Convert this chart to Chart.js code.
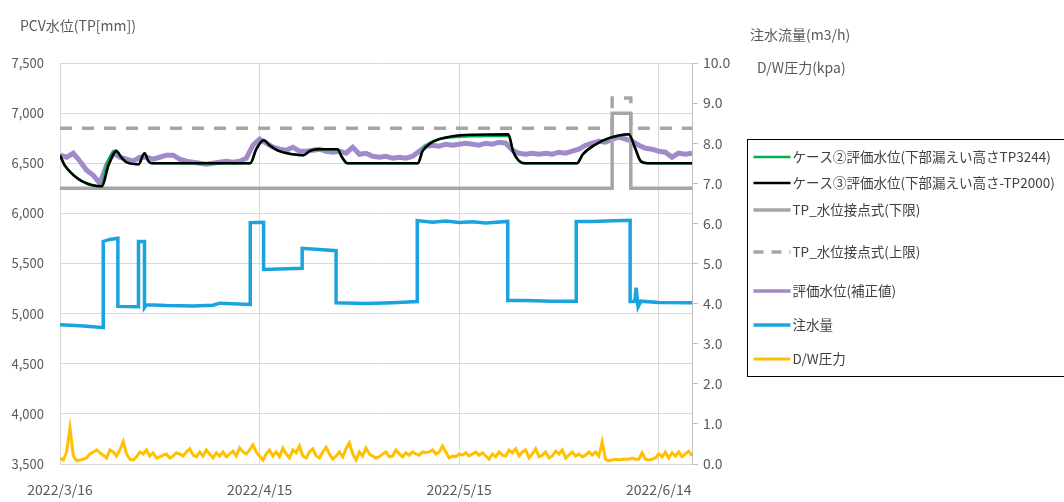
<!DOCTYPE html>
<html>
<head>
<meta charset="utf-8">
<script src="https://cdn.jsdelivr.net/npm/chart.js@4/dist/chart.umd.min.js"></script>
<style>
  html, body { margin: 0; padding: 0; background: #fff; }
  #wrap { width: 1064px; height: 502px; position: relative; }
</style>
</head>
<body>
<div id="wrap"><canvas id="chart"></canvas></div>
<script>
// x axis: days since 2022/3/16
const tickDays = [0, 30, 60, 90];
const tickLabels = ['2022/3/16', '2022/4/15', '2022/5/15', '2022/6/14'];

const leftTitle = 'PCV水位(TP[mm])';
const rightTitles = ['注水流量(m3/h)', 'D/W圧力(kpa)'];

const seriesNames = [
    'ケース②評価水位(下部漏えい高さTP3244)',
    'ケース③評価水位(下部漏えい高さ-TP2000)',
    'TP_水位接点式(下限)',
    'TP_水位接点式(上限)',
    '評価水位(補正値)',
    '注水量',
    'D/W圧力'
];

// case 2 / case 3 evaluated levels (mm)
const case2Days = [0, 0.8, 6.2, 7.1, 8.4, 9.2, 10, 11.8, 12.7, 13.3, 13.8, 28.6, 29.5, 30.6, 31.5, 33, 35, 36.6, 37.5, 38.7, 41.7, 42.4, 43.2, 53.8, 54.5, 55.5, 57, 59, 62, 67.4, 68.1, 68.9, 69.8, 77.7, 78.6, 80.3, 82.5, 85.5, 86.4, 87.3, 88.3, 95];
const case2Levels = [6580, 6470, 6270, 6500, 6630, 6560, 6510, 6490, 6600, 6520, 6500, 6500, 6640, 6730, 6680, 6620, 6590, 6580, 6620, 6640, 6640, 6560, 6500, 6500, 6630, 6700, 6740, 6760, 6770, 6775, 6620, 6530, 6500, 6500, 6590, 6680, 6750, 6785, 6660, 6520, 6500, 6500];
const case3Days = [0, 0.8, 6.3, 7.3, 8.5, 9.2, 10, 11.8, 12.7, 13.3, 13.8, 28.6, 29.5, 30.6, 31.5, 33, 35, 36.6, 37.5, 38.7, 41.7, 42.4, 43.2, 53.8, 54.5, 55.5, 57, 59, 62, 67.4, 68.1, 68.9, 69.8, 77.7, 78.6, 80.3, 82.5, 85.5, 86.4, 87.3, 88.3, 95];
const case3Levels = [6580, 6470, 6270, 6480, 6620, 6560, 6510, 6490, 6600, 6520, 6500, 6500, 6640, 6730, 6680, 6620, 6590, 6580, 6620, 6640, 6640, 6560, 6500, 6500, 6620, 6690, 6740, 6770, 6785, 6790, 6620, 6530, 6500, 6500, 6590, 6680, 6750, 6790, 6660, 6520, 6500, 6500];

// TP contact-type level limits (mm)
const lowerDays = [0, 83.0, 83.0, 85.8, 85.8, 95];
const lowerLevels = [6250, 6250, 7000, 7000, 6250, 6250];
const upperDays = [0, 83.0, 83.0, 85.8, 85.8, 95];
const upperLevels = [6850, 6850, 7150, 7150, 6850, 6850];

// corrected evaluated level, one value per day (mm)
const correctedLevels = [
    6580, 6560, 6600, 6520, 6430, 6380, 6300, 6480, 6600, 6560,
    6540, 6520, 6560, 6560, 6540, 6560, 6580, 6580, 6540, 6520,
    6510, 6500, 6490, 6500, 6510, 6520, 6510, 6520, 6550, 6680,
    6740, 6700, 6660, 6640, 6630, 6660, 6620, 6620, 6630, 6640,
    6620, 6610, 6620, 6600, 6660, 6590, 6600, 6570, 6560, 6570,
    6550, 6560, 6550, 6570, 6620, 6670, 6680, 6670, 6690, 6680,
    6690, 6700, 6690, 6680, 6700, 6690, 6710, 6700, 6630, 6600,
    6590, 6600, 6590, 6600, 6590, 6610, 6600, 6620, 6640, 6680,
    6700, 6720, 6710, 6740, 6760, 6740, 6720, 6680, 6650, 6640,
    6620, 6610, 6560, 6600, 6590, 6600
];

// water injection flow (m3/h)
const flowDays = [0, 3, 5, 6.5, 6.5, 7.5, 8.7, 8.7, 11.8, 11.8, 12.7, 12.7, 13, 16, 20, 23, 24, 28.6, 28.6, 30.6, 30.6, 36.4, 36.4, 41.5, 41.5, 46, 50, 53.7, 53.7, 56, 58, 60, 62, 64, 67.3, 67.3, 70, 74, 77.6, 77.6, 80, 82, 85.7, 85.7, 86.4, 86.6, 86.9, 87.3, 90, 95];
const flowValues = [3.47, 3.45, 3.42, 3.40, 5.55, 5.60, 5.63, 3.93, 3.92, 5.55, 5.55, 3.90, 3.97, 3.95, 3.94, 3.96, 4.01, 3.98, 6.02, 6.03, 4.85, 4.88, 5.38, 5.32, 4.02, 4.00, 4.02, 4.05, 6.07, 6.03, 6.06, 6.02, 6.04, 6.01, 6.05, 4.08, 4.08, 4.06, 4.06, 6.05, 6.05, 6.06, 6.08, 4.05, 4.05, 4.40, 3.92, 4.06, 4.03, 4.02];

// D/W pressure, two values per day (kPa)
const dwPressure = [
    0.15, 0.10, 0.30, 0.90, 0.20, 0.08, 0.10, 0.12, 0.15, 0.25,
    0.30, 0.35, 0.28, 0.22, 0.15, 0.35, 0.30, 0.20, 0.35, 0.56,
    0.25, 0.12, 0.10, 0.18, 0.30, 0.25, 0.35, 0.20, 0.28, 0.15,
    0.18, 0.22, 0.25, 0.15, 0.20, 0.28, 0.25, 0.20, 0.30, 0.38,
    0.22, 0.18, 0.30, 0.20, 0.35, 0.25, 0.15, 0.28, 0.20, 0.30,
    0.18, 0.25, 0.32, 0.20, 0.40, 0.30, 0.25, 0.35, 0.48, 0.30,
    0.20, 0.10, 0.25, 0.35, 0.20, 0.30, 0.18, 0.40, 0.25, 0.15,
    0.35, 0.28, 0.45, 0.20, 0.15, 0.30, 0.38, 0.20, 0.15, 0.30,
    0.42, 0.25, 0.12, 0.20, 0.30, 0.18, 0.38, 0.53, 0.25, 0.10,
    0.30, 0.20, 0.40, 0.25, 0.20, 0.15, 0.18, 0.25, 0.30, 0.18,
    0.20, 0.35, 0.25, 0.18, 0.28, 0.22, 0.30, 0.25, 0.22, 0.30,
    0.28, 0.30, 0.35, 0.25, 0.30, 0.45, 0.30, 0.15, 0.20, 0.18,
    0.25, 0.22, 0.28, 0.20, 0.25, 0.30, 0.22, 0.28, 0.20, 0.12,
    0.25, 0.18, 0.30, 0.22, 0.20, 0.35, 0.28, 0.38, 0.20, 0.30,
    0.35, 0.15, 0.25, 0.38, 0.18, 0.22, 0.30, 0.15, 0.20, 0.32,
    0.25, 0.35, 0.15, 0.22, 0.30, 0.20, 0.25, 0.18, 0.22, 0.30,
    0.22, 0.30, 0.20, 0.55, 0.12, 0.08, 0.10, 0.12, 0.10, 0.12,
    0.12, 0.12, 0.15, 0.12, 0.12, 0.28, 0.12, 0.10, 0.12, 0.15,
    0.25, 0.18, 0.30, 0.15, 0.28, 0.20, 0.30, 0.18, 0.25, 0.32,
    0.20
];

const legendRowY = [157, 183, 210, 252, 291, 325, 359];

function toPoints(xs, ys) {
    return ys.map((y, i) => ({ x: xs[i], y: y }));
}

const datasets = [
    { label: seriesNames[0], data: toPoints(case2Days, case2Levels), borderColor: '#00b050', borderWidth: 2.5, yAxisID: 'y', order: 2, cubicInterpolationMode: 'monotone' },
    { label: seriesNames[1], data: toPoints(case3Days, case3Levels), borderColor: '#000000', borderWidth: 2.5, yAxisID: 'y', order: 1, cubicInterpolationMode: 'monotone' },
    { label: seriesNames[2], data: toPoints(lowerDays, lowerLevels), borderColor: '#a6a6a6', borderWidth: 3.5, yAxisID: 'y', order: 3 },
    { label: seriesNames[3], data: toPoints(upperDays, upperLevels), borderColor: '#a6a6a6', borderWidth: 3.5, borderDash: [12, 10], yAxisID: 'y', order: 4 },
    { label: seriesNames[4], data: correctedLevels.map((v, i) => ({ x: i, y: v })), borderColor: '#a08ac9', borderWidth: 5, yAxisID: 'y', order: 5 },
    { label: seriesNames[5], data: toPoints(flowDays, flowValues), borderColor: '#1ba3df', borderWidth: 3.5, yAxisID: 'y2', order: 6 },
    { label: seriesNames[6], data: dwPressure.map((v, i) => ({ x: i / 2, y: v })), borderColor: '#ffc000', borderWidth: 3, yAxisID: 'y2', order: 7 }
];

const sideText = {
    id: 'sideText',
    afterDraw(chart) {
        const { ctx, chartArea } = chart;
        ctx.save();
        ctx.font = '14px "Noto Sans CJK JP"';
        ctx.fillStyle = '#595959';
        ctx.textBaseline = 'middle';
        ctx.fillText(leftTitle, 20, 26);
        ctx.fillText(rightTitles[0], chartArea.right + 58, 35);
        ctx.fillText(rightTitles[1], chartArea.right + 65, 68);

        // legend box
        const bx = chartArea.right + 55.5;
        ctx.strokeStyle = '#000';
        ctx.lineWidth = 1;
        ctx.strokeRect(bx, 139.5, 340, 237);
        ctx.font = '13.5px "Noto Sans CJK JP"';
        ctx.fillStyle = '#404040';
        chart.data.datasets.forEach((ds, i) => {
            const y = legendRowY[i];
            ctx.beginPath();
            ctx.setLineDash(ds.borderDash ? [10, 8] : []);
            ctx.strokeStyle = ds.borderColor;
            ctx.lineWidth = Math.min(ds.borderWidth, 3.5);
            ctx.moveTo(bx + 6, y);
            ctx.lineTo(bx + 43, y);
            ctx.stroke();
            ctx.setLineDash([]);
            ctx.fillText(ds.label, bx + 45, y);
        });
        ctx.restore();
    }
};

Chart.defaults.font.family = '"Noto Sans CJK JP", "Noto Sans", sans-serif';
Chart.defaults.color = '#595959';

new Chart(document.getElementById('chart'), {
    type: 'line',
    data: { datasets: datasets },
    options: {
        responsive: true,
        maintainAspectRatio: false,
        animation: false,
        parsing: true,
        elements: { point: { radius: 0 }, line: { tension: 0 } },
        layout: { padding: { top: 63, right: 324, left: 0, bottom: 0 } },
        plugins: { legend: { display: false }, tooltip: { enabled: false } },
        scales: {
            x: {
                type: 'linear',
                min: 0,
                max: 95,
                afterBuildTicks: (scale) => { scale.ticks = tickDays.map(v => ({ value: v })); },
                afterFit: (scale) => { scale.height = 38; },
                ticks: {
                    autoSkip: false,
                    maxRotation: 0,
                    padding: 17,
                    font: { size: 14 },
                    callback: (v, i) => tickLabels[i]
                },
                grid: { color: '#d9d9d9', drawTicks: false },
                border: { display: false }
            },
            y: {
                position: 'left',
                min: 3500,
                max: 7500,
                afterFit: (scale) => { scale.width = 60; },
                ticks: {
                    stepSize: 500,
                    padding: 16,
                    font: { size: 13 },
                    callback: (v) => v.toLocaleString('en-US')
                },
                grid: { color: '#d9d9d9', drawTicks: false },
                border: { display: true, color: '#d9d9d9' }
            },
            y2: {
                position: 'right',
                min: 0,
                max: 10,
                afterFit: (scale) => { scale.width = 48; },
                ticks: {
                    stepSize: 1,
                    padding: 5,
                    font: { size: 14 },
                    callback: (v) => v.toFixed(1)
                },
                grid: { drawOnChartArea: false, color: '#bfbfbf', tickLength: 6 },
                border: { display: true, color: '#bfbfbf' }
            }
        }
    },
    plugins: [sideText]
});
</script>
</body>
</html>
